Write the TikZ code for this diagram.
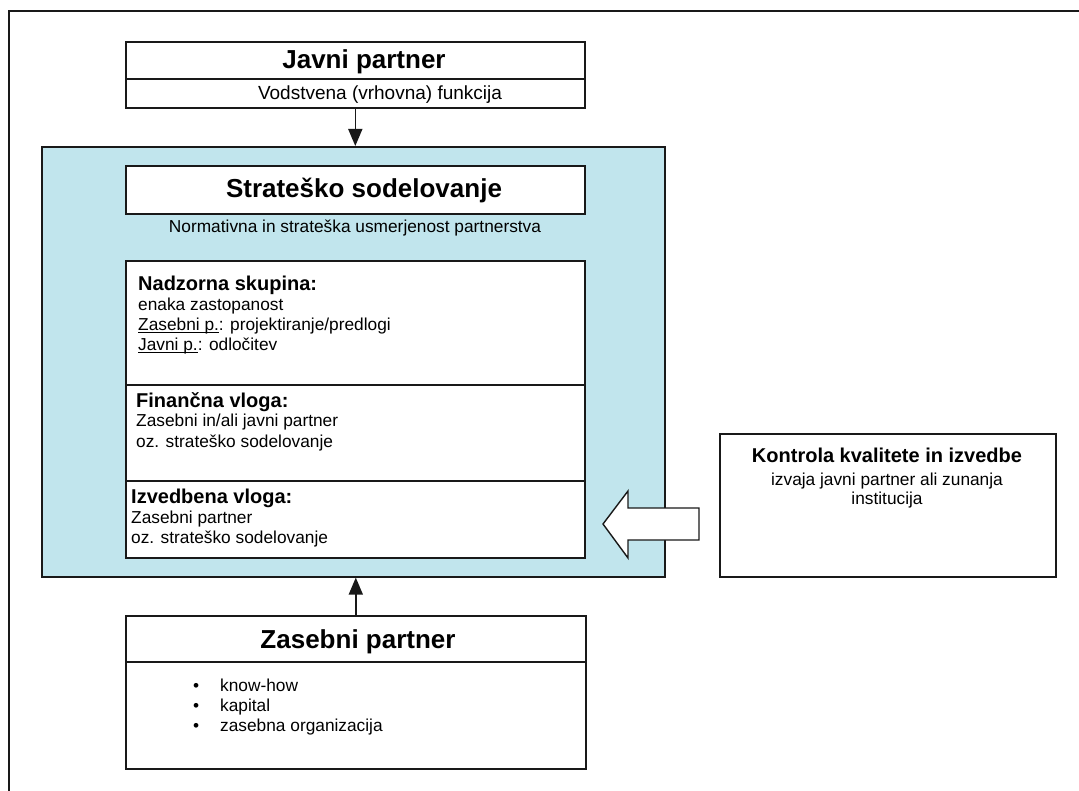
\documentclass[tikz,border=0pt]{standalone}
\usepackage{fontspec}
\setmainfont{Liberation Sans}
\usetikzlibrary{arrows.meta}
\definecolor{panelblue}{RGB}{193,229,237}
\definecolor{ink}{RGB}{25,25,25}
% underline a word with a thin rule just under the baseline
\newcommand{\ulword}[1]{\setbox0\hbox{#1}\rlap{\rule[-2.2pt]{\wd0}{0.9pt}}\box0}
\begin{document}
\begin{tikzpicture}[x=1pt,y=-1pt,line join=miter,
  frameline/.style={draw=ink,line width=2pt},
  box/.style={draw=ink,line width=1.6pt,fill=white,inner sep=0pt,anchor=north west},
  sepline/.style={draw=ink,line width=1.6pt},
  flow/.style={draw=ink,line width=1.6pt,-{Triangle[length=17pt,width=14pt]}},
  title/.style={font=\fontsize{26}{30}\selectfont\bfseries,anchor=base,inner sep=0pt},
  head/.style={font=\fontsize{20}{24}\selectfont\bfseries,anchor=base west,inner sep=0pt},
  headc/.style={font=\fontsize{20}{24}\selectfont\bfseries,anchor=base,inner sep=0pt},
  txt/.style={font=\fontsize{17.3}{20}\selectfont,anchor=base west,inner sep=0pt},
  txtc/.style={font=\fontsize{17.3}{20}\selectfont,anchor=base,inner sep=0pt}]
\useasboundingbox (0,0) rectangle (1079,791);
\fill[white] (0,0) rectangle (1079,791);

% frame: top and left edges only
\draw[frameline] (1079,11) -- (9,11) -- (9,791);

% public partner
\node[box,minimum width=459pt,minimum height=66pt] (jp) at (125,41) {};
\draw[sepline] ([yshift=-38pt]jp.north west) -- ([yshift=-38pt]jp.north east);
\node[title] (jpt) at (364,69) {Javni partner};
\node[txtc,font=\fontsize{19}{22}\selectfont] (jps) at (380,100) {Vodstvena (vrhovna) funkcija};

% blue panel: strategic cooperation
\node[box,fill=panelblue,minimum width=623pt,minimum height=430pt] (panel) at (41,146) {};
\node[box,minimum width=459pt,minimum height=48pt] (ss) at (125,165) {};
\node[title] (sst) at (364,198) {Strateško sodelovanje};
\node[txtc] (ssn) at (355,233) {Normativna in strateška usmerjenost partnerstva};

% roles box
\node[box,minimum width=459pt,minimum height=297pt] (roles) at (125,260) {};
\draw[sepline] ([yshift=-125pt]roles.north west) -- ([yshift=-125pt]roles.north east);
\draw[sepline] ([yshift=-221pt]roles.north west) -- ([yshift=-221pt]roles.north east);

\node[head] (n0) at (138,291) {Nadzorna skupina:};
\node[txt] (n1) at (138,311) {enaka zastopanost};
\node[txt] (n2) at (138,331) {\ulword{Zasebni p.}: projektiranje/predlogi};
\node[txt] (n3) at (138,351) {\ulword{Javni p.}: odločitev};

\node[head] (f0) at (136,407) {Finančna vloga:};
\node[txt] (f1) at (136,427) {Zasebni in/ali javni partner};
\node[txt] (f2) at (136,447) {oz. strateško sodelovanje};

\node[head] (i0) at (131,503) {Izvedbena vloga:};
\node[txt] (i1) at (131,523) {Zasebni partner};
\node[txt] (i2) at (131,543) {oz. strateško sodelovanje};

% quality control
\node[box,minimum width=336pt,minimum height=143pt] (qc) at (719,433) {};
\node[headc] (qct) at (887,462) {Kontrola kvalitete in izvedbe};
\node[txtc] (qc1) at (887,485) {izvaja javni partner ali zunanja};
\node[txtc] (qc2) at (887,504) {institucija};

% block arrow pointing into the panel
\draw[draw=ink,line width=1.4pt,fill=white]
  (699,508) -- (628,508) -- (628,491) -- (603,524) -- (628,558) -- (628,540) -- (699,540) -- cycle;

% private partner
\node[box,minimum width=460pt,minimum height=153pt] (zp) at (125,615) {};
\draw[sepline] ([yshift=-47pt]zp.north west) -- ([yshift=-47pt]zp.north east);
\node[title] (zpt) at (358,648) {Zasebni partner};
\node[txt] (z1) at (193,691) {\makebox[27pt][l]{•}know-how};
\node[txt] (z2) at (193,711) {\makebox[27pt][l]{•}kapital};
\node[txt] (z3) at (193,731) {\makebox[27pt][l]{•}zasebna organizacija};

% connectors
\draw[flow] (jp.south) -- (jp.south |- panel.north);
\draw[flow] (zp.north) -- (zp.north |- panel.south);
\end{tikzpicture}
\end{document}
